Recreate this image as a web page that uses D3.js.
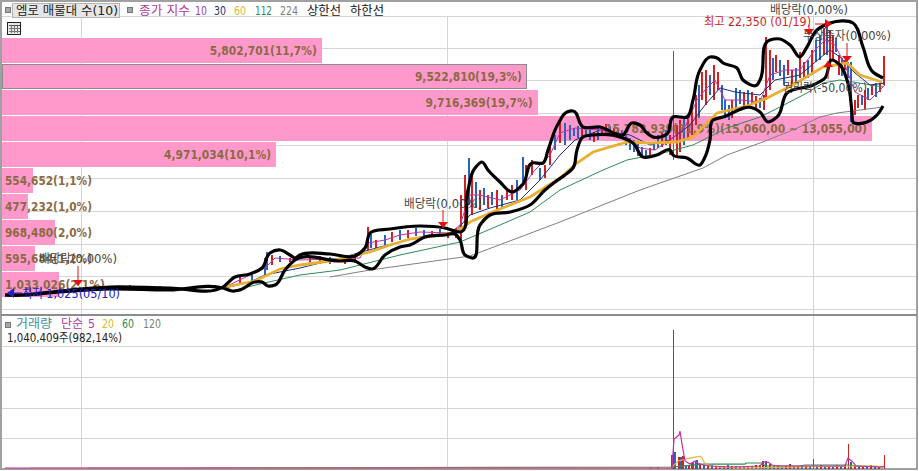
<!DOCTYPE html>
<html><head><meta charset="utf-8">
<script src="https://cdnjs.cloudflare.com/ajax/libs/d3/7.8.5/d3.min.js"></script>
<style>html,body{margin:0;padding:0;background:#fff;overflow:hidden}svg{display:block}text{font-family:"DejaVu Sans","Noto Sans CJK KR",sans-serif}</style>
</head><body><svg id="c" width="919" height="471"></svg>
<script>
// --- volume profile (매물대)
const profileLabels = ["5,802,701(11,7%)","9,522,810(19,3%)","9,716,369(19,7%)","15,782,939(31,9%)(15,060,00 ~ 13,055,00)","4,971,034(10,1%)","554,652(1,1%)","477,232(1,0%)","968,480(2,0%)","595,684(1,2%)","1,033,026(2,1%)"];
const profileValues = [5802701,9522810,9716369,15782939,4971034,554652,477232,968480,595684,1033026];
const profileTextWidths = [107,107,107,262,107,87,87,87,87,100];
// --- candles
const candleSessions = [30,60,95,130,160,195,215,240,252,265,267,272,280,290,310,320,330,345,355,368,371,376,385,392,400,408,416,424,432,440,448,456,461,465,469,472,476,480,484,488,492,497,502,507,512,517,523,526,532,540,545,550,555,560,565,570,574,578,582,586,590,594,598,602,606,610,614,618,622,626,630,634,638,642,646,650,654,658,662,666,670,673,677,680,684,688,692,696,699,702,706,710,714,718,722,725,729,732,736,740,744,748,752,756,760,764,766,770,773,776,780,784,788,792,796,800,804,808,812,816,820,824,827,830,833,836,839,842,845,848,851,855,858,862,865,868,872,876,880,884];
const candleHighs = [1200,1280,1440,1440,1360,1360,1440,2160,2320,3600,4080,3840,3760,3600,3760,3760,3680,3600,3760,6080,5600,5040,5440,5680,5840,5840,6000,5840,5760,5920,5680,6000,8640,10240,11600,10480,9680,9040,9200,8640,8880,9040,8640,9200,9440,9840,11680,11040,11440,10800,11040,12480,13440,14480,14400,14240,14000,14160,14000,13840,13840,13680,14000,14160,14320,14160,14000,14000,13840,13440,13200,13040,12800,12480,12240,12400,12800,13440,13600,13840,13440,20160,14240,14640,14800,15040,15840,16640,17440,18480,18640,18240,19040,18480,17440,16240,15840,16240,17200,17040,16880,17040,16880,16560,16400,16640,21280,20240,19600,19840,19440,19040,19440,18640,18800,20080,19280,19440,20240,21040,21440,22000,22320,21840,21440,21200,19840,19600,19440,19280,19280,16240,16640,16640,17040,17200,17440,17600,17600,19760];
const candleLows = [880,960,1120,1120,1120,1120,1200,1520,1680,2240,2640,3040,3280,3280,3120,3120,3120,3120,3200,4240,4400,4400,4640,4880,5040,5200,5360,5200,5280,5360,5200,5200,5040,6240,7840,7040,7600,7440,7840,7600,7840,7440,7600,8240,8240,8240,9440,9040,10240,9840,10000,11040,12240,12800,12640,13040,13360,13200,13280,13280,13040,12880,13040,13360,13440,13360,13440,13440,13280,12640,12240,12080,11760,11680,11600,11760,12240,12400,12480,12640,11840,11440,11600,12080,12640,13040,13440,14240,14800,16240,15840,16640,16240,17040,15440,14800,14640,14800,15600,15920,15600,15840,15840,15440,15600,15440,16240,17040,17840,18480,18160,17440,18240,17440,17680,18000,18000,18000,18240,19280,19440,19840,19840,19440,19440,20080,18240,18160,18640,18000,14480,15040,15600,15840,15440,16240,16640,16480,16880,17440];
const candleUp = [1,0,1,0,1,1,0,1,0,0,0,1,0,1,1,1,0,1,1,1,0,1,0,1,0,1,0,0,1,0,1,1,1,1,0,1,0,1,0,1,0,1,0,1,1,0,0,1,1,0,1,1,0,1,0,0,0,0,1,0,0,1,0,1,1,0,1,0,0,0,0,0,0,0,0,1,0,0,1,0,1,0,1,1,0,1,1,1,0,1,1,0,1,1,0,0,0,1,0,0,1,0,1,1,0,1,1,1,0,1,0,0,1,1,0,1,1,0,1,0,0,1,0,1,1,0,1,0,1,0,0,1,1,0,1,0,1,0,1,1];
// --- envelope bands (상한선 / 하한선)
const upperSessions = [5,23,60,110,170,223,235,250,262,270,280,290,295,300,330,355,365,370,390,420,445,460,468,475,482,488,500,512,523,532,543,548,558,567,573,583,600,623,632,640,647,653,667,673,687,693,700,710,717,723,737,743,757,760,770,780,790,800,807,817,830,853,863,873,883];
const upperPrices = [640,640,960,1280,1200,1280,2080,2320,2800,4000,4240,3840,3600,3840,3920,3760,4400,5600,5920,6160,6000,5680,9040,10800,11280,10640,9680,8880,9520,11200,11200,12240,14320,15280,15360,14080,14080,13440,14400,14240,13600,13280,13520,14880,14880,16240,18640,19680,19600,19200,18800,17840,17440,17840,21040,21120,20640,19680,20480,21840,22400,22400,20480,18480,18000];
const lowerSessions = [5,23,60,110,170,223,232,240,255,262,268,275,285,295,340,355,365,372,385,400,410,425,445,455,460,465,472,480,490,510,530,545,555,565,573,577,583,593,623,633,643,657,670,673,687,700,705,710,713,723,753,760,768,777,787,813,825,832,840,847,852,853,867,877,883];
const lowerPrices = [640,640,880,1120,1040,1200,960,1040,1680,1680,1360,1440,2640,3440,3360,3360,2880,2720,3840,4480,4640,5280,5440,5520,5040,3840,3600,6240,7040,7280,7840,9040,9680,10240,10800,12240,13280,13440,13200,12800,11680,11840,12240,11840,11600,11040,11680,13040,14640,14880,15600,15280,14480,14880,16800,17440,18000,19440,19040,17840,15200,14480,14480,15040,15760];
// --- moving averages of the close
const ma10Sessions = [225,250,265,275,300,360,368,385,400,420,450,460,470,480,500,520,535,550,560,575,600,625,640,655,670,685,697,705,715,725,740,760,770,785,800,815,825,835,845,855,870,885];
const ma10Prices = [1280,2240,2800,3600,3440,3600,4800,5040,5440,5680,5600,6240,8640,8640,8240,9040,10640,11840,13600,14000,13840,13440,12400,12240,13040,14080,16240,17040,17840,16240,16240,16080,18240,18640,18640,20240,21040,20640,19040,16880,16240,17440];
const ma30Sessions = [225,250,265,300,340,380,420,455,470,490,520,540,560,575,600,630,650,670,690,705,720,735,760,775,800,820,830,840,855,870,885];
const ma30Prices = [1200,1680,2240,2800,3600,4480,5280,5680,7040,7600,8240,9840,11840,13040,13840,13440,12640,13040,14240,15840,17200,16880,16640,17840,18240,19600,20240,19680,18400,17440,17600];
const ma60Sessions = [225,255,280,300,330,370,390,410,440,455,470,490,510,530,560,577,593,627,650,677,693,717,747,767,793,823,847,860,882];
const ma60Prices = [1280,1760,2720,3040,3360,4080,4640,5120,5440,5600,6480,7200,7840,8480,10000,11200,12080,12880,12800,12880,13280,15200,15760,16400,17440,18880,19200,18240,17680];
const ma112Sessions = [235,260,300,340,400,460,500,530,560,603,627,667,693,727,760,780,807,823,840,853,883];
const ma112Prices = [1040,1520,2240,2640,3840,4880,6240,7280,9040,10640,11440,12080,12640,14000,14880,15680,16800,17600,17840,17680,17280];
const ma224Sessions = [330,370,470,560,640,703,727,760,793,820,837,860,883];
const ma224Prices = [2080,2640,3760,6480,9040,10800,11840,12800,13840,14880,15200,15440,15680];
// --- volume
const volumeSessions = [651,658,672,673,675,679,681,683,686,689,692,693,696,697,700,704,708,712,716,720,724,728,732,736,740,744,748,752,756,760,763,766,770,774,778,782,786,790,794,798,802,806,810,813,817,821,825,829,833,837,841,845,848,851,855,859,863,867,871,875,879,884];
const volumeValues = [15000,15000,105000,1040409,127000,90000,90000,97000,30000,30000,45000,52000,60000,67000,37000,30000,22500,30000,22500,15000,22500,30000,22500,22500,15000,22500,15000,22500,30000,30000,60000,60000,37000,22500,22500,15000,22500,37000,22500,22500,30000,22500,22500,75000,22500,30000,22500,15000,22500,30000,22500,30000,187000,52000,22500,22500,15000,22500,30000,22500,15000,105000];
const volumeUp = [1,1,1,1,0,1,0,1,0,1,0,1,1,0,1,0,1,0,1,0,1,0,1,0,1,0,1,0,1,0,1,0,1,0,1,0,1,1,0,1,0,1,0,1,0,1,0,1,0,1,0,1,1,0,1,0,1,0,1,0,1,1];
const vol5Sessions = [5,30,660,672,674,679,680,682,685,690,695,698,703,710,730,760,763,768,772,780,810,845,848,853,856,880,885];
const vol5Values = [7500,7500,7500,7500,225000,254000,284000,187000,60000,37000,60000,45000,30000,22500,15000,22500,52000,52000,30000,22500,22500,22500,82000,52000,22500,15000,22500];
const vol20Sessions = [30,88,672,673,678,690,700,702,705,715,740,800,860,877,884];
const vol20Values = [7500,7500,7500,22500,60000,82000,97000,82000,37000,15000,7500,15000,22500,22500,7500];
const vol60Sessions = [88,177,672,703,745,746,762,765,800,805,848,862,884];
const vol60Values = [7500,7500,15000,37000,37000,45000,45000,22500,22500,30000,30000,22500,15000];
// --- texts
const priceGridValues = [23000,20400,17840,15200,12640,10000,7360,4720,2160,-480];
const volumeGridValues = [0,232000,457000,689000,921000];
const sessionGrid = [81,447,813];
const annoTexts = ["배당락(0,00%)","최고 22,350 (01/19)","무상증자(0,00%)","권리락(-50,00%)","배당락(0,00%)","배당락(0,00%)","최저 1,025(05/10)"];
const annoSessions = [770,704,803,783,404,39,22];
const annoPrices = [23520,22560,21440,17280,8000,3600,800];
const annoWidths = [78,107,88,84,78,78,98];
const annoColors = ["#444","#cc1f1f","#444","#444","#444","#444","#2222c8"];
const arrowSessions = [78,443,809,847,828];
const arrowTips = [1360,6000,21440,19280,19360];
const arrowTails = [2960,7440,22240,20800,17920];
const legendTexts = ["종가 지수","10","30","60","112","224","상한선","하한선"];
const legendColors = ["#b03a9c","#a040b0","#1f2f80","#e0b830","#2e8b57","#808080","#111","#111"];
const legendXs = [139,195,214,234,255,280,307,350];
const legendWidths = [51,12,12,12,17,18,34,34];
const volLegendTexts = ["거래량","단순","5","20","60","120"];
const volLegendColors = ["#3f8f9a","#b03a9c","#b03a9c","#e0b830","#2e8b57","#808080"];
const volLegendXs = [16,61,88,102,122,143];
const volLegendWidths = [36,22,7,12,12,18];

const svg = d3.select("#c");
const x = d3.scaleLinear().domain([0,919]).range([0,919]);
const y = d3.scaleLinear().domain([0,24240]).range([303,0]);
const vy = d3.scaleLinear().domain([0,1040409]).range([469,330]);
const bx = d3.scaleLinear().domain([0,15782939]).range([2,872]);
const by = d3.scaleBand().domain(profileLabels).range([38,297]).paddingInner(0.04);

const grid = "#d6d6d6";
const g = svg.append("g").attr("shape-rendering","crispEdges");
g.selectAll(".h").data(priceGridValues).join("line").attr("x1",2).attr("x2",917).attr("y1",d=>Math.round(y(d))).attr("y2",d=>Math.round(y(d))).attr("stroke",grid);
g.selectAll(".v").data(sessionGrid).join("line").attr("x1",d=>x(d)).attr("x2",d=>x(d)).attr("y1",16).attr("y2",469).attr("stroke",grid);
g.selectAll(".vh").data(volumeGridValues.slice(1)).join("line").attr("x1",2).attr("x2",917).attr("y1",d=>Math.round(vy(d))).attr("y2",d=>Math.round(vy(d))).attr("stroke",grid);
// frame
g.append("rect").attr("x",1).attr("y",1).attr("width",916).attr("height",468).attr("fill","none").attr("stroke","#a0a0a0").attr("stroke-width",2);
g.append("line").attr("x1",1).attr("x2",917).attr("y1",315).attr("y2",315).attr("stroke","#8c8c8c").attr("stroke-width",2);

// profile
svg.append("g").attr("shape-rendering","crispEdges").selectAll("rect").data(profileValues).join("rect")
 .attr("x",2).attr("y",(d,i)=>by(profileLabels[i])).attr("height",by.bandwidth()).attr("width",d=>bx(d)-2)
 .attr("fill","#ff99cc").attr("stroke",(d,i)=>i===1?"#8c8c8c":"none");

// candles
svg.append("g").attr("shape-rendering","crispEdges").selectAll("line").data(candleSessions).join("line")
 .attr("x1",d=>x(d)).attr("x2",d=>x(d)).attr("y1",(d,i)=>y(candleHighs[i])).attr("y2",(d,i)=>y(candleLows[i]))
 .attr("stroke",(d,i)=>candleUp[i]?"#d21f1f":"#2a62c0").attr("stroke-width",(d,i)=>candleHighs[i]===20160?1:2);

const profText = svg.append("g");
profText.selectAll("text").data(profileLabels).join("text")
 .attr("x",(d,i)=>bx(profileValues[i])-2-profileTextWidths[i]>5?bx(profileValues[i])-5-profileTextWidths[i]:5)
 .attr("y",d=>by(d)+by.bandwidth()/2+4.5).attr("textLength",(d,i)=>profileTextWidths[i]).attr("lengthAdjust","spacingAndGlyphs")
 .attr("font-size",12).attr("font-weight",700).attr("fill","#8a6a42").text(d=>d);

const lineOf = (xs,ys,sy,curve)=>d3.line().x((d,i)=>x(xs[i])).y((d,i)=>sy(ys[i])).curve(curve)(xs);
const ma = (xs,ys,c,w)=>svg.append("path").attr("d",lineOf(xs,ys,y,d3.curveLinear)).attr("fill","none").attr("stroke",c).attr("stroke-width",w);
ma(ma224Sessions,ma224Prices,"#808080",1);
ma(ma112Sessions,ma112Prices,"#2e8b57",1);
ma(ma30Sessions,ma30Prices,"#1f2f80",1);
ma(ma10Sessions,ma10Prices,"#c030a8",1);
ma(ma60Sessions,ma60Prices,"#e8b030",2.8);

const band=(xs,ys)=>svg.append("path").attr("d",lineOf(xs,ys,y,d3.curveCatmullRom.alpha(1))).attr("fill","none").attr("stroke","#000").attr("stroke-width",3.2).attr("stroke-linejoin","round");
band(upperSessions,upperPrices);
band(lowerSessions,lowerPrices);

// annotation texts
svg.append("g").selectAll("text").data(annoTexts).join("text")
 .attr("x",(d,i)=>x(annoSessions[i])).attr("y",(d,i)=>y(annoPrices[i])+4.5)
 .attr("textLength",(d,i)=>annoWidths[i]).attr("lengthAdjust","spacingAndGlyphs")
 .attr("font-size",12).attr("fill",(d,i)=>annoColors[i]).text(d=>d);

// arrows
const ag = svg.append("g");
arrowSessions.forEach((s,i)=>{
  const tx=x(s),ty=y(arrowTips[i]),tl=y(arrowTails[i]),dir=tl<ty?-1:1;
  ag.append("line").attr("x1",tx).attr("x2",tx).attr("y1",tl).attr("y2",ty).attr("stroke","#e01010").attr("stroke-width",1);
  ag.append("path").attr("d",d3.line()([[tx,ty],[tx-5,ty+dir*6],[tx+5,ty+dir*6]])+"Z").attr("fill","#e01010");
});
const hx=x(825),hy=y(22320);
ag.append("line").attr("x1",x(815)).attr("x2",hx).attr("y1",hy).attr("y2",hy).attr("stroke","#e01010");
ag.append("path").attr("d",d3.line()([[x(832),hy],[hx,hy-5],[hx,hy+5]])+"Z").attr("fill","#e01010");
const lx=x(14),ly=y(800);
ag.append("line").attr("x1",lx).attr("x2",x(22)).attr("y1",ly).attr("y2",ly).attr("stroke","#2222c8");
ag.append("path").attr("d",d3.line()([[x(7),ly],[lx,ly-5],[lx,ly+5]])+"Z").attr("fill","#2222c8");

// volume
svg.append("g").attr("shape-rendering","crispEdges").selectAll("line").data(volumeSessions).join("line")
 .attr("x1",d=>x(d)).attr("x2",d=>x(d)).attr("y1",(d,i)=>vy(volumeValues[i])).attr("y2",vy(0))
 .attr("stroke",(d,i)=>volumeUp[i]?"#d21f1f":"#2a62c0").attr("stroke-width",d=>d===673||d===848||d===884||d===813?1:2);
const vma=(xs,ys,c)=>svg.append("path").attr("d",lineOf(xs,ys,vy,d3.curveLinear)).attr("fill","none").attr("stroke",c).attr("stroke-width",1.2);
vma(vol60Sessions,vol60Values,"#2e8b57");
vma(vol20Sessions,vol20Values,"#e0b830");
vma(vol5Sessions,vol5Values,"#c030a8");

// header
const chip=(px,py)=>svg.append("rect").attr("x",px).attr("y",py).attr("width",5).attr("height",5).attr("fill","#a8a8a8").attr("stroke","#777").attr("shape-rendering","crispEdges");
chip(5,7); chip(127,7); chip(5,322);
svg.append("rect").attr("x",12.5).attr("y",3.5).attr("width",107).attr("height",14).attr("fill","#e6e6e6").attr("stroke","#b4b4b4").attr("shape-rendering","crispEdges");
svg.append("text").attr("x",16).attr("y",15).attr("font-size",12).attr("fill","#222").attr("textLength",102).attr("lengthAdjust","spacingAndGlyphs").text("엠로 매물대 수(10)");
const legend=(t,c,xs,ws,yy)=>svg.append("g").selectAll("text").data(t).join("text").attr("x",(d,i)=>xs[i]).attr("y",yy).attr("font-size",12).attr("fill",(d,i)=>c[i]).attr("textLength",(d,i)=>ws[i]).attr("lengthAdjust","spacingAndGlyphs").text(d=>d);
legend(legendTexts,legendColors,legendXs,legendWidths,15);
legend(volLegendTexts,volLegendColors,volLegendXs,volLegendWidths,328);
svg.append("text").attr("x",7).attr("y",342).attr("font-size",12).attr("fill","#222").attr("textLength",115).attr("lengthAdjust","spacingAndGlyphs").text("1,040,409주(982,14%)");
// table icon
const ic=svg.append("g").attr("shape-rendering","crispEdges");
ic.append("rect").attr("x",7.5).attr("y",22.5).attr("width",13).attr("height",12).attr("fill","#e8e8e8").attr("stroke","#222");
ic.selectAll("line.a").data([11,14,17]).join("line").attr("x1",d=>d+.5).attr("x2",d=>d+.5).attr("y1",25).attr("y2",33).attr("stroke","#777");
ic.append("line").attr("x1",9).attr("x2",20).attr("y1",25.5).attr("y2",25.5).attr("stroke","#555");
ic.append("line").attr("x1",9).attr("x2",20).attr("y1",28.5).attr("y2",28.5).attr("stroke","#777");
ic.append("line").attr("x1",9).attr("x2",20).attr("y1",31.5).attr("y2",31.5).attr("stroke","#777");
</script></body></html>
